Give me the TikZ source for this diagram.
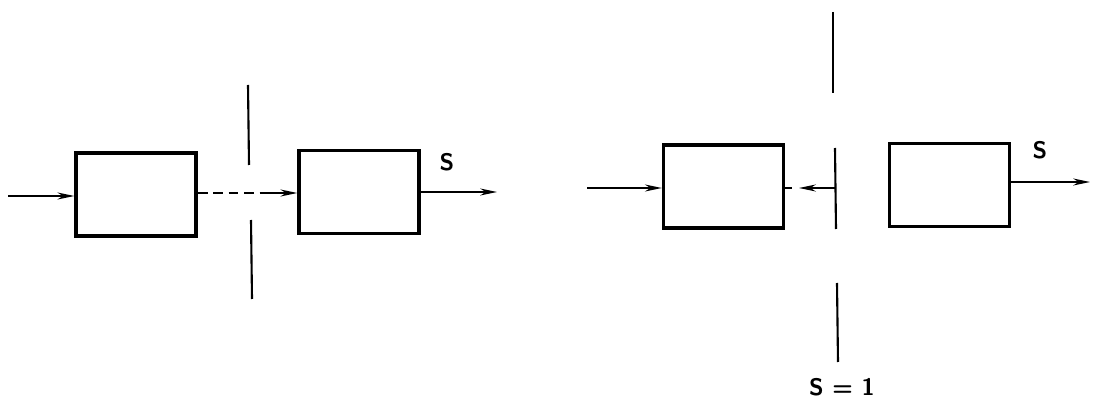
\documentclass[tikz,border=0pt]{standalone}
\usepackage{tikz}
\usetikzlibrary{arrows.meta, positioning}

\begin{document}
\begin{tikzpicture}[x=0.025cm, y=-0.025cm,
  blk/.style={draw, line width=2.4pt, minimum width=3cm, minimum height=2.07cm, inner sep=0pt},
  sig/.style={line width=1.1pt, -{Stealth[length=12pt, width=5pt]}},
  cut/.style={line width=1.5pt},
  lbl/.style={font=\sffamily\bfseries\fontsize{17}{20}\selectfont}]

\useasboundingbox (0,0) rectangle (1093,399);

% --- Left: cut between the two blocks ---
\node[blk] (b1) at (136,194.5) {};
\node[blk] (b2) at (359,192) {};

\coordinate (in1) at (8,196);
\coordinate (out1) at (497,192);
\coordinate (gap1) at (268,193);

\draw[sig] (in1) -- (in1 -| b1.west);
\draw[line width=1.1pt, dash pattern=on 7pt off 4pt] (b1.east |- gap1) -- (gap1);
\draw[sig] (gap1) -- (gap1 -| b2.west);
\draw[sig] (out1 -| b2.east) -- (out1);
\node[lbl] (s1) at (447,162) {S};

\coordinate (c1t) at (248,85);
\coordinate (c1m) at (249,165);
\coordinate (c1n) at (251,220);
\coordinate (c1b) at (252,299);
\draw[cut] (c1t) -- (c1m);
\draw[cut] (c1n) -- (c1b);

% --- Right: cut held at S = 1 ---
\node[blk] (b3) at (723.5,186.5) {};
\node[blk] (b4) at (949.5,185) {};

\coordinate (in2) at (587,188);
\coordinate (out2) at (1090,182);
\coordinate (bar) at (835,188);
\coordinate (tip) at (799,188);

\draw[sig] (in2) -- (in2 -| b3.west);
\draw[line width=1.1pt] (b3.east |- tip) -- ++(7,0);
\draw[sig] (bar) -- (tip);
\draw[sig] (out2 -| b4.east) -- (out2);
\node[lbl] (s2) at (1040,150) {S};

\coordinate (c2t) at (833,12);
\coordinate (c2m) at (833,93);
\coordinate (c2a) at (835,148);
\coordinate (c2c) at (836,229);
\coordinate (c2n) at (837,283);
\coordinate (c2b) at (838,362);
\draw[cut] (c2t) -- (c2m);
\draw[cut] (c2a) -- (c2c);
\draw[cut] (c2n) -- (c2b);
\node[lbl] (s3) at (842,387) {S = 1};

\end{tikzpicture}
\end{document}
